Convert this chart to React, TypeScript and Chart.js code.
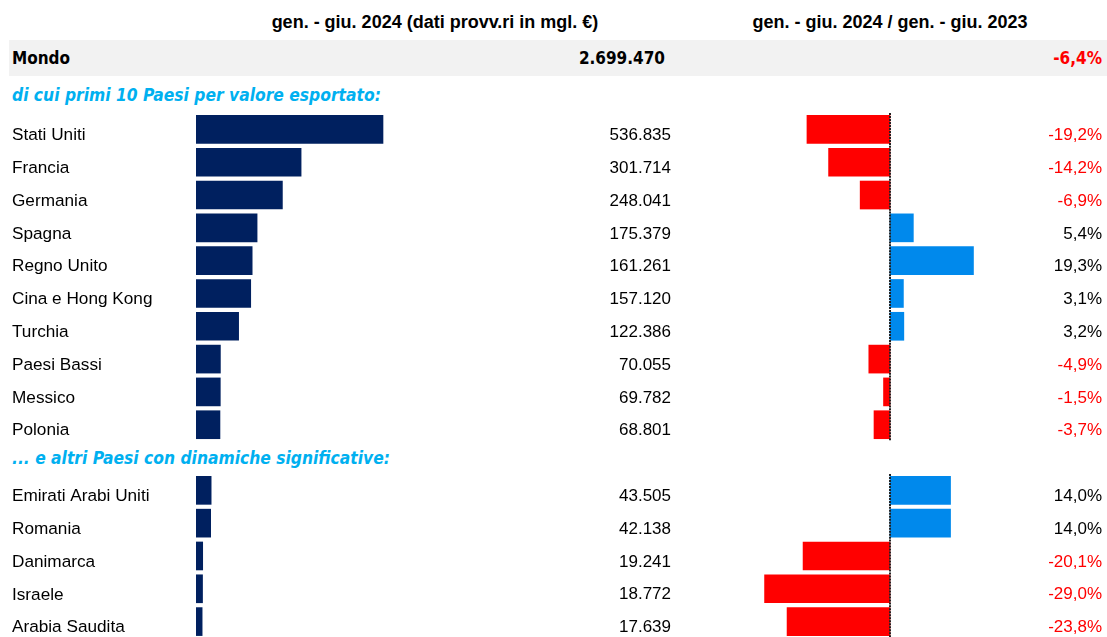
import React, { useEffect, useRef } from "react";
import { Chart, registerables } from "chart.js";

Chart.register(...registerables);

// ---------- DATA ----------
const headerLeft = "gen. - giu. 2024 (dati provv.ri in mgl. €)";
const headerRight = "gen. - giu. 2024 / gen. - giu. 2023";
const worldLabel = "Mondo";
const worldTotal = 2699470;
const worldChange = -6.4;
const subtitleTop = "di cui primi 10 Paesi per valore esportato:";
const subtitleOther = "... e altri Paesi con dinamiche significative:";

const countries = [
  "Stati Uniti",
  "Francia",
  "Germania",
  "Spagna",
  "Regno Unito",
  "Cina e Hong Kong",
  "Turchia",
  "Paesi Bassi",
  "Messico",
  "Polonia",
  "",
  "Emirati Arabi Uniti",
  "Romania",
  "Danimarca",
  "Israele",
  "Arabia Saudita",
];
const exportValues: (number | null)[] = [
  536835, 301714, 248041, 175379, 161261, 157120, 122386, 70055, 69782, 68801,
  null, 43505, 42138, 19241, 18772, 17639,
];
const changePct: (number | null)[] = [
  -19.2, -14.2, -6.9, 5.4, 19.3, 3.1, 3.2, -4.9, -1.5, -3.7,
  null, 14.0, 14.0, -20.1, -29.0, -23.8,
];

// ---------- HELPERS ----------
const fmtInt = (n: number) => String(Math.round(n)).replace(/\B(?=(\d{3})+(?!\d))/g, ".");
const fmtPct = (v: number) => v.toFixed(1).replace(".", ",") + "%";

const NAVY = "#00205F";
const RED = "#FF0000";
const BLUE = "#0089EC";
const CYAN = "#00B0F0";
const ARIAL = '"Liberation Sans", Arial, sans-serif';
const TAHOMA = '"DejaVu Sans Condensed", "DejaVu Sans", sans-serif';

const CHART_TOP = 113;
const CHART_H = 525;
const TICK_PAD = 10; // half of the tick-label line height, added by Chart.js around the y scale
const LABEL_DY = 6;

export default function App() {
  const leftRef = useRef<HTMLCanvasElement | null>(null);
  const rightRef = useRef<HTMLCanvasElement | null>(null);

  useEffect(() => {
    if (!leftRef.current || !rightRef.current) return;

    const valuePlugin = {
      id: "valueLabels",
      afterDatasetsDraw(chart: any) {
        const { ctx } = chart;
        const y = chart.scales.y;
        ctx.save();
        ctx.font = `17px ${ARIAL}`;
        ctx.fillStyle = "#000";
        ctx.textAlign = "right";
        ctx.textBaseline = "middle";
        exportValues.forEach((v, i) => {
          if (v == null) return;
          ctx.fillText(fmtInt(v), 671, y.getPixelForTick(i) + LABEL_DY);
        });
        ctx.restore();
      },
    };

    const left = new Chart(leftRef.current, {
      type: "bar",
      data: {
        labels: countries,
        datasets: [
          {
            data: exportValues as any,
            backgroundColor: NAVY,
            borderWidth: 0,
            barThickness: 28,
          },
        ],
      },
      options: {
        indexAxis: "y",
        animation: false,
        responsive: false,
        maintainAspectRatio: false,
        layout: { padding: { left: 12, right: 86, top: 0, bottom: 0 } },
        plugins: { legend: { display: false }, tooltip: { enabled: false } },
        scales: {
          x: { display: false, min: 0, max: 1200000 },
          y: {
            grid: { display: false, drawTicks: false },
            border: { display: false },
            ticks: {
              autoSkip: false,
              crossAlign: "far",
              padding: 0,
              labelOffset: LABEL_DY,
              color: "#000",
              font: { family: ARIAL, size: 17.2, lineHeight: "20px" },
            },
            afterFit: (s: any) => {
              s.width = 184;
            },
          },
        },
      },
      plugins: [valuePlugin],
    } as any);

    const pctPlugin = {
      id: "pctLabels",
      afterDatasetsDraw(chart: any) {
        const { ctx } = chart;
        const y = chart.scales.y;
        const x0 = chart.scales.x.getPixelForValue(0);
        const half = (y.getPixelForTick(1) - y.getPixelForTick(0)) / 2;
        ctx.save();
        ctx.strokeStyle = "#222";
        ctx.lineWidth = 2;
        ctx.setLineDash([2, 1]);
        changePct.forEach((v, i) => {
          if (v == null) return;
          const c = y.getPixelForTick(i);
          ctx.beginPath();
          ctx.moveTo(x0, c - half);
          ctx.lineTo(x0, c + half);
          ctx.stroke();
        });
        ctx.setLineDash([]);
        ctx.font = `17px ${ARIAL}`;
        ctx.textAlign = "right";
        ctx.textBaseline = "middle";
        changePct.forEach((v, i) => {
          if (v == null) return;
          ctx.fillStyle = v < 0 ? RED : "#000";
          ctx.fillText(fmtPct(v), 402, y.getPixelForTick(i) + LABEL_DY);
        });
        ctx.restore();
      },
    };

    const right = new Chart(rightRef.current, {
      type: "bar",
      data: {
        labels: countries,
        datasets: [
          {
            data: changePct as any,
            backgroundColor: changePct.map((v) => (v != null && v < 0 ? RED : BLUE)),
            borderWidth: 0,
            barThickness: 28,
          },
        ],
      },
      options: {
        indexAxis: "y",
        animation: false,
        responsive: false,
        maintainAspectRatio: false,
        layout: { padding: { left: 17, right: 44, top: 0, bottom: 0 } },
        plugins: { legend: { display: false }, tooltip: { enabled: false } },
        scales: {
          x: { display: false, min: -40, max: 40 },
          y: { display: false },
        },
      },
      plugins: [pctPlugin],
    } as any);

    return () => {
      left.destroy();
      right.destroy();
    };
  }, []);

  const abs = (s: React.CSSProperties): React.CSSProperties => ({ position: "absolute", whiteSpace: "nowrap", ...s });

  return (
    <div
      style={{
        position: "fixed",
        left: 0,
        top: 0,
        width: 1107,
        height: 637,
        overflow: "hidden",
        background: "#fff",
      }}
    >
      {/* headers */}
      <div style={abs({ left: 185, width: 500, top: 7, height: 30, textAlign: "center", font: `bold 18px/30px ${ARIAL}`, color: "#000" })}>
        {headerLeft}
      </div>
      <div style={abs({ left: 640, width: 500, top: 7, height: 30, textAlign: "center", font: `bold 18px/30px ${ARIAL}`, color: "#000" })}>
        {headerRight}
      </div>

      {/* world row */}
      <div style={abs({ left: 9, top: 40, width: 1098, height: 36, background: "#F2F2F2" })} />
      <div style={abs({ left: 12, top: 43, height: 30, font: `bold 17px/30px ${TAHOMA}`, fontStretch: "condensed", color: "#000" })}>
        {worldLabel}
      </div>
      <div style={abs({ left: 365, width: 300, top: 43, height: 30, textAlign: "right", font: `bold 17px/30px ${TAHOMA}`, fontStretch: "condensed", color: "#000" })}>
        {fmtInt(worldTotal)}
      </div>
      <div style={abs({ left: 802, width: 300, top: 43, height: 30, textAlign: "right", font: `bold 17px/30px ${TAHOMA}`, fontStretch: "condensed", color: RED })}>
        {fmtPct(worldChange)}
      </div>

      {/* subtitles */}
      <div style={abs({ left: 12, top: 80, height: 30, font: `italic bold 17.3px/30px ${TAHOMA}`, fontStretch: "condensed", color: CYAN })}>
        {subtitleTop}
      </div>
      <div style={abs({ left: 12, top: 443, height: 30, font: `italic bold 17.3px/30px ${TAHOMA}`, fontStretch: "condensed", color: CYAN })}>
        {subtitleOther}
      </div>

      {/* charts */}
      <canvas
        ref={leftRef}
        width={700}
        height={CHART_H + 2 * TICK_PAD}
        style={{ position: "absolute", left: 0, top: CHART_TOP - TICK_PAD, width: 700, height: CHART_H + 2 * TICK_PAD }}
      />
      <canvas
        ref={rightRef}
        width={407}
        height={CHART_H}
        style={{ position: "absolute", left: 700, top: CHART_TOP, width: 407, height: CHART_H }}
      />
    </div>
  );
}
